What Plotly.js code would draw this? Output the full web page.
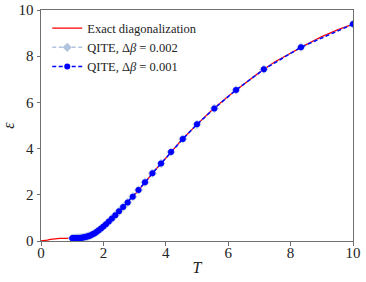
<!DOCTYPE html>
<html>
<head>
<meta charset="utf-8">
<script src="https://cdn.plot.ly/plotly-3.0.1.min.js"></script>
<style>html,body{margin:0;padding:0;background:#fff}#chart{width:366px;height:282px}</style>
</head>
<body>
<div id="chart"></div>
<script>
// Exact diagonalization curve
const exactT = [0, 0.1, 0.2, 0.3, 0.4, 0.5, 0.6, 0.8, 1.0, 1.2, 1.4, 1.5, 1.6, 1.7, 1.8, 1.9, 2.0, 2.2, 2.4, 2.6, 2.8, 3.0, 3.3, 3.6, 4.0, 4.5, 5.0, 5.5, 6.0, 6.5, 7.0, 7.5, 8.0, 8.5, 9.0, 9.5, 10];
const exactE = [0, 0.01, 0.04, 0.07, 0.09, 0.10, 0.11, 0.115, 0.12, 0.13, 0.165, 0.20, 0.25, 0.32, 0.41, 0.52, 0.63, 0.86, 1.12, 1.42, 1.70, 2.0, 2.48, 2.98, 3.59, 4.36, 5.05, 5.69, 6.27, 6.79, 7.30, 7.76, 8.14, 8.50, 8.85, 9.14, 9.39];

// QITE points (same T grid for both step sizes)
const qiteT = [10, 8.333, 7.143, 6.25, 5.556, 5, 4.545, 4.167, 3.846, 3.571, 3.333, 3.125, 2.941, 2.778, 2.632, 2.5, 2.381, 2.273, 2.174, 2.083, 2, 1.923, 1.852, 1.786, 1.724, 1.667, 1.613, 1.563, 1.515, 1.471, 1.429, 1.389, 1.351, 1.316, 1.282, 1.25, 1.22, 1.19, 1.163, 1.136, 1.111, 1.087, 1.064, 1.042, 1.02, 1.0];
const qiteE002 = [9.39, 8.39, 7.43, 6.54, 5.74, 5.05, 4.42, 3.85, 3.36, 2.93, 2.54, 2.21, 1.92, 1.67, 1.47, 1.29, 1.12, 0.97, 0.84, 0.73, 0.63, 0.54, 0.46, 0.40, 0.34, 0.30, 0.26, 0.23, 0.21, 0.19, 0.17, 0.16, 0.15, 0.145, 0.14, 0.135, 0.13, 0.13, 0.125, 0.125, 0.12, 0.12, 0.12, 0.12, 0.12, 0.12];
const qiteE001 = [9.39, 8.39, 7.43, 6.54, 5.74, 5.05, 4.42, 3.85, 3.36, 2.93, 2.54, 2.21, 1.92, 1.67, 1.47, 1.29, 1.12, 0.97, 0.84, 0.73, 0.63, 0.54, 0.46, 0.40, 0.34, 0.30, 0.26, 0.23, 0.21, 0.19, 0.17, 0.16, 0.15, 0.145, 0.14, 0.135, 0.13, 0.13, 0.125, 0.125, 0.12, 0.12, 0.12, 0.12, 0.12, 0.12];

const tickVals = [0, 2, 4, 6, 8, 10];
const tickText = ['0', '2', '4', '6', '8', '10'];

const serif = 'Times New Roman, Liberation Serif, serif';

const traces = [
  {x: exactT, y: exactE, mode: 'lines', name: 'Exact diagonalization',
   line: {color: '#ff0000', width: 1.3}},
  {x: qiteT, y: qiteE002, mode: 'lines+markers', name: 'QITE, Δ<i>β</i> = 0.002',
   line: {color: '#b0c4de', width: 1.5, dash: '4px,2.5px'},
   marker: {color: '#b0c4de', size: 7, symbol: 'diamond'}},
  {x: qiteT, y: qiteE001, mode: 'lines+markers', name: 'QITE, Δ<i>β</i> = 0.001',
   line: {color: '#0000ff', width: 1.5, dash: '4px,2.5px'},
   marker: {color: '#0000ff', size: 6, symbol: 'circle'}}
];

const axisCommon = {
  showline: true, mirror: true, linecolor: '#707070', linewidth: 1,
  ticks: 'outside', ticklen: 3.5, tickwidth: 1, tickcolor: '#707070',
  showgrid: false, zeroline: false,
  tickvals: tickVals, ticktext: tickText,
  tickfont: {family: serif, size: 15, color: '#222'}
};

const layout = {
  width: 366, height: 282,
  margin: {l: 41, r: 13, t: 10, b: 41},
  paper_bgcolor: '#fff', plot_bgcolor: '#fff',
  showlegend: true,
  legend: {x: 0.02, y: 0.985, xanchor: 'left', yanchor: 'top',
    bgcolor: 'rgba(255,255,255,0)', borderwidth: 0,
    font: {family: serif, size: 12.5, color: '#222'},
    itemwidth: 30, tracegroupgap: 0},
  xaxis: Object.assign({}, axisCommon, {range: [0, 10], ticklabelstandoff: -6,
    title: {text: '<i>T</i>', font: {family: serif, size: 16, color: '#222'}, standoff: 2}}),
  yaxis: Object.assign({}, axisCommon, {range: [0, 10],
    title: {text: '<i>ε</i>', font: {family: serif, size: 16, color: '#222'}, standoff: 10}})
};

Plotly.newPlot('chart', traces, layout, {displayModeBar: false, staticPlot: true});
</script>
</body>
</html>
